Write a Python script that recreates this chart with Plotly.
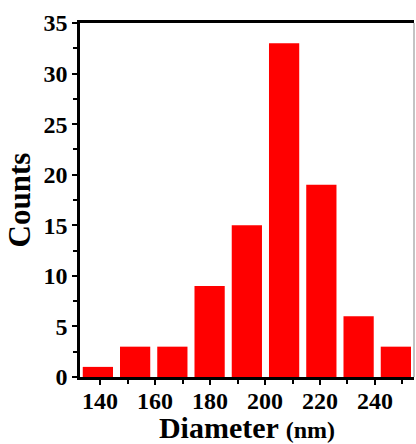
import plotly.graph_objects as go

diameter_centers = [139.2, 152.75, 166.3, 179.85, 193.4, 206.95, 220.5, 234.05, 247.6]
counts = [1, 3, 3, 9, 15, 33, 19, 6, 3]
x_ticks = [140, 160, 180, 200, 220, 240]
y_ticks = [0, 5, 10, 15, 20, 25, 30, 35]

FONT = "Liberation Serif"

fig = go.Figure()
fig.add_trace(go.Bar(
    x=diameter_centers, y=counts, width=11,
    marker=dict(color="#ff0000", line=dict(width=0)),
))

fig.update_layout(
    width=416, height=444,
    margin=dict(l=80, r=2, t=23, b=67),
    plot_bgcolor="white", paper_bgcolor="white",
    showlegend=False,
    font=dict(family=FONT, color="black"),
    xaxis=dict(
        range=[132.7, 254.2], tickvals=x_ticks,
        ticks="outside", ticklen=5, tickwidth=2, tickcolor="black",
        minor=dict(dtick=10, tick0=130, ticks="outside", ticklen=4, tickwidth=2, tickcolor="black"),
        showline=True, linewidth=2.5, linecolor="black", mirror=True,
        showgrid=False, zeroline=False,
        tickfont=dict(family=FONT, size=24, weight="bold"),
        ticklabelstandoff=-5,
        title=dict(text="Diameter <span style='font-size:24px'>(nm)</span>",
                   font=dict(family=FONT, size=30, weight="bold"), standoff=0),
    ),
    yaxis=dict(
        range=[0, 35], tickvals=y_ticks,
        ticks="outside", ticklen=5, tickwidth=2, tickcolor="black",
        minor=dict(dtick=2.5, tick0=0, ticks="outside", ticklen=4, tickwidth=2, tickcolor="black"),
        showline=True, linewidth=2.5, linecolor="black",
        showgrid=False, zeroline=False,
        tickfont=dict(family=FONT, size=24, weight="bold"),
        title=dict(text="Counts", font=dict(family=FONT, size=31, weight="bold"), standoff=4),
    ),
    shapes=[dict(type="line", xref="paper", yref="paper", x0=1, x1=1, y0=0, y1=1,
                 line=dict(color="#888888", width=1))],
)

fig.write_html("out.html")
